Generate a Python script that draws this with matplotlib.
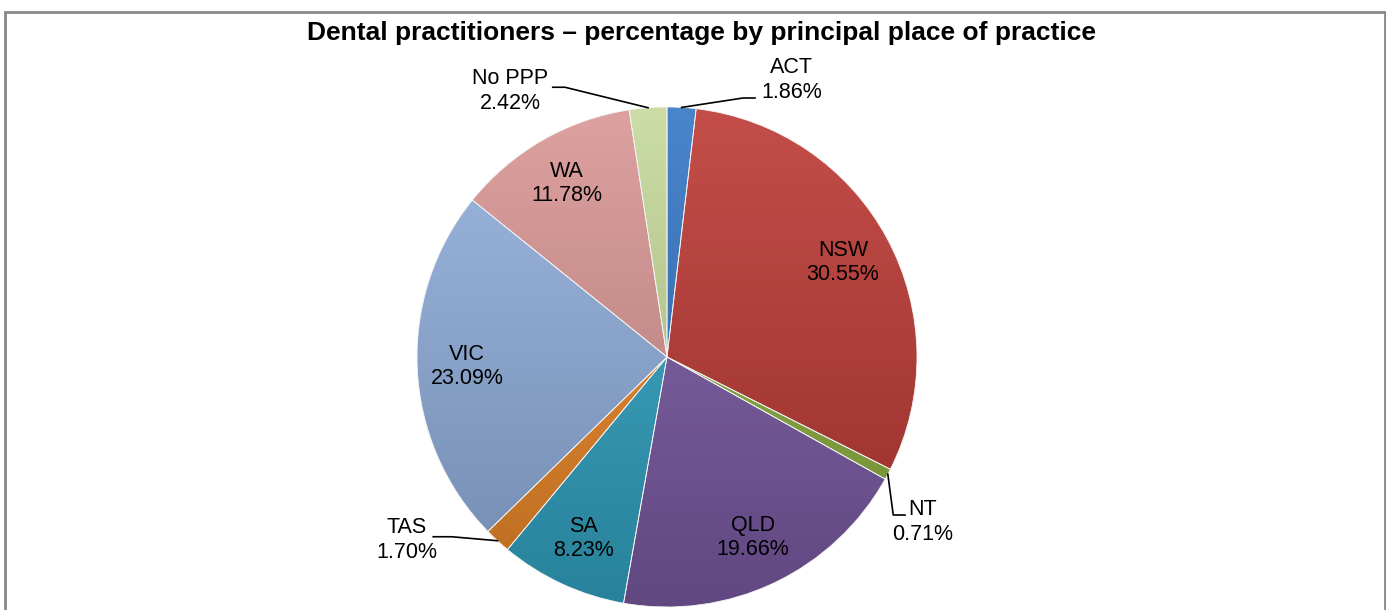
import numpy as np
import matplotlib.pyplot as plt
from matplotlib.colors import to_rgb
from matplotlib.patches import Rectangle

plt.rcParams['font.family'] = ['Liberation Sans', 'DejaVu Sans']

title = "Dental practitioners \u2013 percentage by principal place of practice"
states = ["ACT", "NSW", "NT", "QLD", "SA", "TAS", "VIC", "WA", "No PPP"]
shares = [1.86, 30.55, 0.71, 19.66, 8.23, 1.70, 23.09, 11.78, 2.42]
colors = ["#3677C6", "#BE3A35", "#8DB23F", "#7C5CA6", "#33A6C6",
          "#F08A28", "#93B1DF", "#DA9795", "#C6DA9C"]
inside = ["NSW", "QLD", "SA", "VIC", "WA"]


def shade(c, f):
    r, g, b = to_rgb(c)
    if f >= 0:
        return (r + (1 - r) * f, g + (1 - g) * f, b + (1 - b) * f)
    return (r * (1 + f), g * (1 + f), b * (1 + f))


fig = plt.figure(figsize=(13.86, 6.10), dpi=100)
fig.patches.append(Rectangle((5 / 1386, -0.05), 1380 / 1386, 1.05 - 12 / 610,
                             transform=fig.transFigure, fill=False,
                             edgecolor="#888888", linewidth=2))
fig.text(702 / 1386, 1 - 33 / 610, title, ha="center", va="center",
         fontsize=19, fontweight="bold")

ax = fig.add_axes([417 / 1386, 3 / 610, 500 / 1386, 500 / 610])
wedges, _ = ax.pie(shares, colors=colors, startangle=90, counterclock=False,
                   wedgeprops=dict(edgecolor="#f4f4f4", linewidth=0.6))
ax.set_xlim(-1, 1)
ax.set_ylim(-1, 1)
ax.set_aspect("equal")

# gradient fill clipped to each wedge
yy = np.linspace(1, 0, 200)[:, None]
for w, c in zip(wedges, colors):
    top = np.array(shade(c, 0.1))
    bot = np.array(shade(c, -0.22))
    img = top * yy[..., None] + bot * (1 - yy[..., None])
    img = np.repeat(img, 2, axis=1)
    im = ax.imshow(img, extent=(-1, 1, -1, 1), zorder=w.get_zorder() + 0.1,
                   interpolation="bilinear")
    im.set_clip_path(w)
    w.set_zorder(w.get_zorder() + 0.2)
    w.set_facecolor("none")

fs = 15.5
for w, name, v in zip(wedges, states, shares):
    mid = np.deg2rad((w.theta1 + w.theta2) / 2)
    if name in inside:
        ax.text(0.8 * np.cos(mid), 0.8 * np.sin(mid), f"{name}\n{v:.2f}%",
                ha="center", va="center", fontsize=fs, linespacing=1.2,
                zorder=5)

# outside labels with leader lines: (knee, line end, text centre)
outside = {
    "ACT": ((0.304, 1.036), (0.352, 1.036), (0.498, 1.108)),
    "No PPP": ((-0.408, 1.079), (-0.457, 1.079), (-0.628, 1.064)),
    "NT": ((0.905, -0.632), (0.952, -0.632), (1.022, -0.66)),
    "TAS": ((-0.861, -0.719), (-0.935, -0.719), (-1.04, -0.732)),
}
for name, (p1, p2, tc) in outside.items():
    w = wedges[states.index(name)]
    mid = np.deg2rad((w.theta1 + w.theta2) / 2)
    ex, ey = np.cos(mid), np.sin(mid)
    ax.plot([ex, p1[0], p2[0]], [ey, p1[1], p2[1]], color="black", lw=1.2,
            clip_on=False, zorder=6)
    v = shares[states.index(name)]
    ax.text(tc[0], tc[1], f"{name}\n{v:.2f}%", ha="center", va="center",
            fontsize=fs, linespacing=1.2, clip_on=False, zorder=6)

fig.savefig("out.png", dpi=100)
